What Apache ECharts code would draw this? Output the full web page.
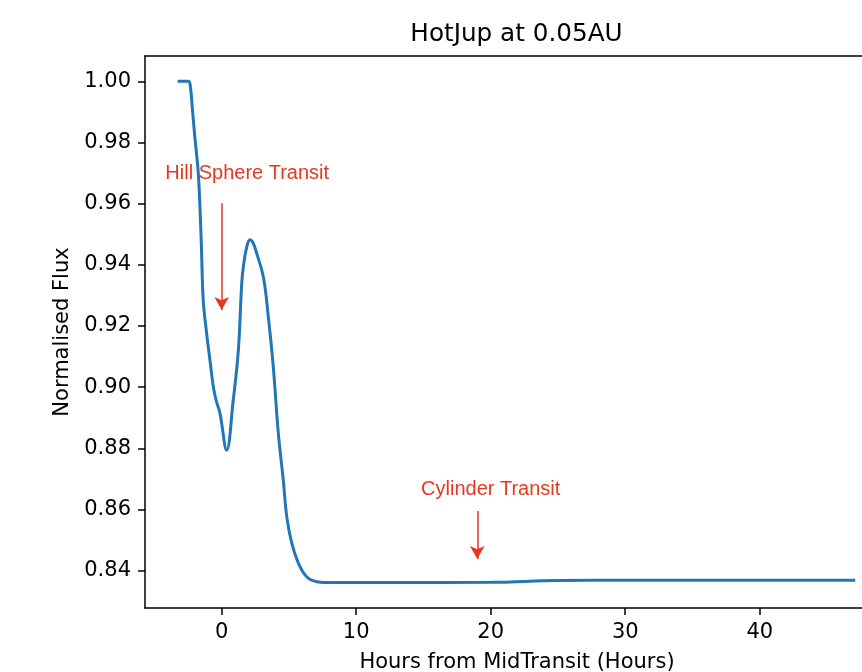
<!DOCTYPE html>
<html>
<head>
<meta charset="utf-8">
<script src="https://cdn.jsdelivr.net/npm/echarts@6/dist/echarts.min.js"></script>
<style>html,body{margin:0;padding:0;background:#fff;}#chart{width:862px;height:672px;}</style>
</head>
<body>
<div id="chart"></div>
<script>
// Hours from mid-transit (x) and normalised flux (y)
var hours = [-3.27, -2.48, -2.32, -2.19, -2.0, -1.74, -1.58, -1.50, -1.37, -1.12, -0.87, -0.62, -0.42, -0.13, 0.37,
             0.86, 1.24, 1.49, 1.61, 1.86, 2.11, 2.35, 2.60, 3.10, 3.47, 3.84, 4.21, 4.58, 4.84, 5.21, 5.70, 6.32, 7.07,
             8.28, 13.3, 20.0, 25.0, 30.0, 47.1];
var flux  = [1.000, 1.000, 0.998, 0.9916, 0.982, 0.970, 0.955, 0.945, 0.9284, 0.9176, 0.9088, 0.9001, 0.8958, 0.8915, 0.8794,
             0.8958, 0.9121, 0.9339, 0.9393, 0.9458, 0.9482, 0.9470, 0.9438, 0.936, 0.9229, 0.9065, 0.885, 0.8696, 0.8576, 0.849, 0.8425, 0.838, 0.8364,
             0.8361, 0.8361, 0.8362, 0.8368, 0.8369, 0.8369];

var xTicks = [0, 10, 20, 30, 40];
var yTicks = [0.84, 0.86, 0.88, 0.90, 0.92, 0.94, 0.96, 0.98, 1.00];

var annotationTexts = ['Hill Sphere Transit', 'Cylinder Transit'];
var annotationTextX = [1.9, 20.0];
var annotationTextY = [0.9698, 0.8665];
var arrowX = [0, 19.0];
var arrowTop = [0.9601, 0.8595];
var arrowTip = [0.9252, 0.8438];

var xRange = [-5.70, 47.6];
var yRange = [0.8278, 1.00827];

var red = '#e8371f';
var lineData = hours.map(function (h, i) { return [h, flux[i]]; });

var markLines = arrowX.map(function (x, i) {
  return [{ coord: [x, arrowTop[i]] }, { coord: [x, arrowTip[i]] }];
});
var markPoints = annotationTexts.map(function (t, i) {
  return { name: t, coord: [annotationTextX[i], annotationTextY[i]] };
});

var chart = echarts.init(document.getElementById('chart'));
var font = 'DejaVu Sans';
var axisFont = 21;
chart.setOption({
  animation: false,
  backgroundColor: '#fff',
  grid: { left: 145, top: 56, right: 0, bottom: 64, show: false, containLabel: false, outerBoundsMode: 'none' },
  graphic: [{
    type: 'text', x: 516.5, y: 35,
    style: { text: 'HotJup at 0.05AU', font: '24.7px "DejaVu Sans"', fill: '#000', textAlign: 'center', textVerticalAlign: 'middle' }
  }],
  xAxis: [{
    type: 'value', min: xRange[0], max: xRange[1],
    name: 'Hours from MidTransit (Hours)', nameLocation: 'middle', nameGap: 44,
    nameTextStyle: { fontFamily: font, fontSize: axisFont, color: '#000', padding: [0, 0, 0, 27] },
    axisLine: { show: true, onZero: false, lineStyle: { color: '#000', width: 1.5 } },
    axisTick: { show: true, inside: false, length: 7, lineStyle: { color: '#000', width: 1.5 }, customValues: xTicks },
    axisLabel: { customValues: xTicks, fontFamily: font, fontSize: axisFont, color: '#000', margin: 14, formatter: function (v) { return String(v); } },
    splitLine: { show: false }
  }, {
    type: 'value', position: 'top', min: xRange[0], max: xRange[1],
    axisLine: { show: true, onZero: false, lineStyle: { color: '#000', width: 1.5 } },
    axisTick: { show: false }, axisLabel: { show: false }, splitLine: { show: false }
  }],
  yAxis: {
    type: 'value', min: yRange[0], max: yRange[1],
    name: 'Normalised Flux', nameLocation: 'middle', nameGap: 68, nameRotate: 90,
    nameTextStyle: { fontFamily: font, fontSize: axisFont, color: '#000' },
    axisLine: { show: true, onZero: false, lineStyle: { color: '#000', width: 1.5 } },
    axisTick: { show: true, inside: false, length: 7, lineStyle: { color: '#000', width: 1.5 }, customValues: yTicks },
    axisLabel: { customValues: yTicks, fontFamily: font, fontSize: axisFont, color: '#000', margin: 14, formatter: function (v) { return v.toFixed(2); } },
    splitLine: { show: false }
  },
  series: [{
    type: 'line',
    xAxisIndex: 0,
    data: lineData,
    showSymbol: false,
    smooth: 0.4,
    lineStyle: { color: '#1f77b4', width: 3 },
    z: 2,
    markLine: {
      silent: true,
      symbol: ['none', 'arrow'],
      symbolSize: [11, 13],
      label: { show: false },
      lineStyle: { color: red, width: 1.5, type: 'solid' },
      data: markLines,
      z: 3
    },
    markPoint: {
      silent: true,
      symbol: 'circle',
      symbolSize: 0,
      itemStyle: { color: 'transparent' },
      label: { show: true, position: 'inside', formatter: '{b}', color: red, fontFamily: 'Liberation Sans', fontSize: 20 },
      data: markPoints,
      z: 5
    }
  }]
});
</script>
</body>
</html>
